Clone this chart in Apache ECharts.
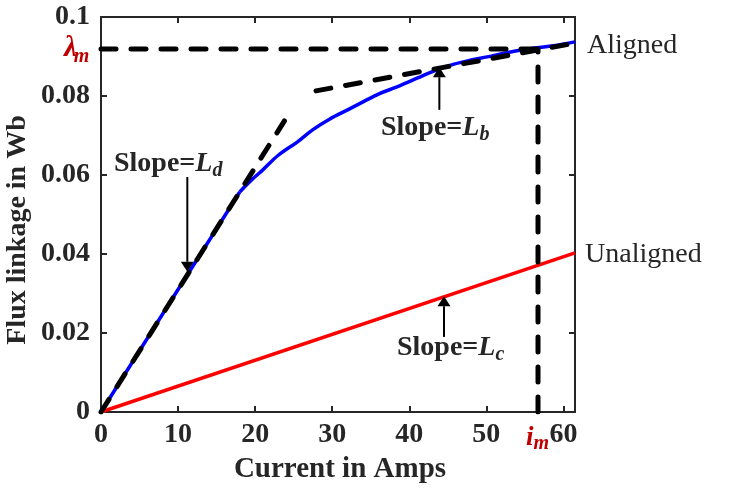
<!DOCTYPE html>
<html><head><meta charset="utf-8">
<script src="https://cdn.jsdelivr.net/npm/echarts@6/dist/echarts.min.js"></script>
<style>html,body{margin:0;padding:0;background:#fff}#c{width:738px;height:493px}</style>
</head><body><div id="c"></div>
<script>
// ---- data ----
const alignedCurrent = [0, 5, 10, 15, 18, 19.5, 21, 23, 25.5, 27.5, 29.7, 32, 34, 36, 38.4, 41, 43, 45.7, 48, 50.1, 52, 54.4, 56.5, 58.7, 61.5];
const alignedFlux    = [0, 0.0155, 0.031, 0.0464, 0.0557, 0.0587, 0.0613, 0.0650, 0.0684, 0.0715, 0.0742, 0.0765, 0.0785, 0.0805, 0.0823, 0.0845, 0.0862, 0.0880, 0.0891, 0.0899, 0.0907, 0.0916, 0.0922, 0.0927, 0.0937];
const kneeIndex = 4; // end of the linear (unsaturated) part
const unalignedCurrent = [0, 61.5];
const unalignedFlux    = [0, 0.0403];
const tangentLdCurrent = [0, 23.8];
const tangentLdFlux    = [0, 0.0737];
const tangentLbCurrent = [27.9, 61.5];
const tangentLbFlux    = [0.0813, 0.0934];
const lambdaM = 0.0919;
const iM = 56.7;
const xMin = 0, xMax = 61.5, xStep = 10;
const yMin = 0, yMax = 0.1, yStep = 0.02;
// arrows: [x, yFrom, yTip]
const arrowLd = [11.2, 0.0595, 0.0355];
const arrowLb = [43.9, 0.0765, 0.0873];
const arrowLc = [44.5, 0.0190, 0.0293];

const zip = (a, b) => a.map((v, i) => [v, b[i]]);
const FONT = '"Liberation Serif", "Times New Roman", serif';
const TXT = '#262626';
const RED = '#c00000';

const chart = echarts.init(document.getElementById('c'), null, {renderer: 'canvas'});

const dashStyle = {color: '#000', width: 5, type: [15, 15], cap: 'round'};
function axisCommon() {
  return {
    type: 'value',
    axisLine: {show: true, onZero: false, lineStyle: {color: TXT, width: 2}},
    axisTick: {show: true, inside: true, length: 6, lineStyle: {color: TXT, width: 2}},
    splitLine: {show: false}
  };
}
const tickLabel = {color: TXT, fontFamily: FONT, fontWeight: 'bold', fontSize: 28};

chart.setOption({
  animation: false,
  backgroundColor: '#fff',
  grid: {left: 101, right: 163, top: 17, bottom: 81, containLabel: false},
  xAxis: [
    Object.assign(axisCommon(), {
      min: xMin, max: xMax, interval: xStep, position: 'bottom',
      axisLabel: Object.assign({show: true, margin: 9,
        formatter: v => (Math.abs(v % xStep) < 1e-9 ? String(v) : '')}, tickLabel)
    }),
    Object.assign(axisCommon(), {
      min: xMin, max: xMax, interval: xStep, position: 'top', axisLabel: {show: false}
    })
  ],
  yAxis: [
    Object.assign(axisCommon(), {
      min: yMin, max: yMax, interval: yStep, position: 'left',
      axisLabel: Object.assign({show: true, margin: 11,
        formatter: v => (v === 0 ? '0' : String(+v.toFixed(2)))}, tickLabel)
    }),
    Object.assign(axisCommon(), {
      min: yMin, max: yMax, interval: yStep, position: 'right', axisLabel: {show: false}
    })
  ],
  series: [
    {type: 'line', name: 'Aligned (linear)', data: zip(alignedCurrent, alignedFlux).slice(0, kneeIndex + 1),
     showSymbol: false, lineStyle: {color: '#0000ff', width: 3.5}, z: 2},
    {type: 'line', name: 'Aligned (saturated)', data: zip(alignedCurrent, alignedFlux).slice(kneeIndex),
     showSymbol: false, smooth: 0.35, lineStyle: {color: '#0000ff', width: 3.5}, z: 2},
    {type: 'line', name: 'Unaligned', data: zip(unalignedCurrent, unalignedFlux), showSymbol: false,
     lineStyle: {color: '#ff0000', width: 3.5}, z: 2},
    {type: 'line', name: 'Ld', data: zip(tangentLdCurrent, tangentLdFlux), showSymbol: false,
     lineStyle: dashStyle, z: 3},
    {type: 'line', name: 'Lb', data: zip(tangentLbCurrent, tangentLbFlux), showSymbol: false,
     lineStyle: dashStyle, z: 3},
    {type: 'line', name: 'lambda', data: [[xMin, lambdaM], [iM, lambdaM]], showSymbol: false,
     lineStyle: dashStyle, z: 3},
    {type: 'line', name: 'im', data: [[iM, yMin], [iM, lambdaM]], showSymbol: false,
     lineStyle: dashStyle, z: 3}
  ]
});

// ---- annotations ----
const mctx = document.createElement('canvas').getContext('2d');
function fontStr(p) { return (p.italic ? 'italic ' : '') + (p.bold ? 'bold ' : '') + p.size + 'px ' + FONT; }
function measure(p) { mctx.font = fontStr(p); return mctx.measureText(p.text).width; }
function richLabel(parts, left, baseline, color) {
  const els = [];
  let x = left;
  parts.forEach(p => {
    els.push({
      type: 'text', z: 50,
      style: {
        text: p.text, x: x, y: baseline + (p.dy || 0) - 0.34 * p.size,
        fill: color, font: fontStr(p), textAlign: 'left', textVerticalAlign: 'middle'
      }
    });
    x += measure(p) + (p.gap || 0);
  });
  return els;
}
function px(x, y) { return chart.convertToPixel({gridIndex: 0}, [x, y]); }
function arrow(a) {
  const p0 = px(a[0], a[1]);
  const p1 = px(a[0], a[2]);
  const dir = p1[1] > p0[1] ? 1 : -1;
  const hl = 10, hw = 6.5;
  return [
    {type: 'line', z: 40, shape: {x1: p0[0], y1: p0[1], x2: p1[0], y2: p1[1] - dir * hl},
     style: {stroke: '#000', lineWidth: 2}},
    {type: 'polygon', z: 41, shape: {points: [[p1[0], p1[1]], [p1[0] - hw, p1[1] - dir * hl], [p1[0] + hw, p1[1] - dir * hl]]},
     style: {fill: '#000'}}
  ];
}
function slopeLabel(sub, left, baseline) {
  return richLabel([
    {text: 'Slope=', bold: true, size: 28},
    {text: 'L', bold: true, italic: true, size: 28, gap: 0},
    {text: sub, bold: true, italic: true, size: 20, dy: 5}
  ], left, baseline, TXT);
}

const g = [];
g.push(...arrow(arrowLd), ...arrow(arrowLb), ...arrow(arrowLc));
g.push(...slopeLabel('d', 114, 173));
g.push(...slopeLabel('b', 381, 137));
g.push(...slopeLabel('c', 397, 357));
g.push(...richLabel([{text: 'Aligned', size: 28}], 587, 55, TXT));
g.push(...richLabel([{text: 'Unaligned', size: 28}], 585, 264, TXT));
g.push(...richLabel([{text: 'λ', bold: true, italic: true, size: 29, gap: -3}, {text: 'm', bold: true, italic: true, size: 20, dy: 6}], 64, 58, RED));
g.push(...richLabel([{text: 'i', bold: true, italic: true, size: 27, gap: 0}, {text: 'm', bold: true, italic: true, size: 20, dy: 4}], 526, 447, RED));
// axis titles
g.push({type: 'text', z: 50, style: {text: 'Current in Amps', x: 340, y: 470, fill: TXT,
  font: 'bold 29px ' + FONT, textAlign: 'center', textVerticalAlign: 'middle'}});
g.push({type: 'text', z: 50, x: 17.5, y: 230, rotation: Math.PI / 2,
  style: {text: 'Flux linkage in Wb', x: 0, y: 0, fill: TXT,
  font: 'bold 28px ' + FONT, textAlign: 'center', textVerticalAlign: 'middle'}});

chart.setOption({graphic: g});
</script></body></html>
